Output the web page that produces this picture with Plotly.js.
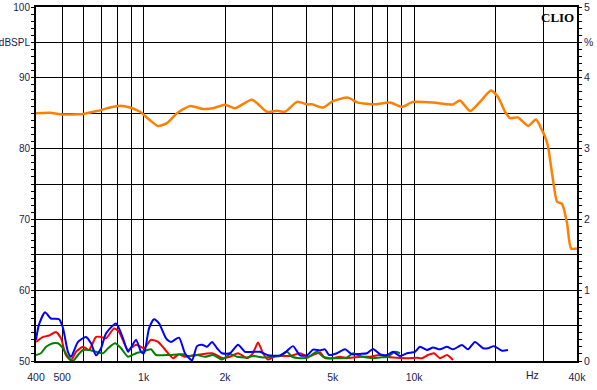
<!DOCTYPE html>
<html>
<head>
<meta charset="utf-8">
<script src="https://cdn.plot.ly/plotly-3.0.1.min.js"></script>
<style>html,body{margin:0;padding:0;background:#fff;}#chart{width:597px;height:390px;}</style>
</head>
<body>
<div id="chart"></div>
<script>
// Frequency response (dBSPL, left axis)
var splFreq = [400,451,491,567,597,672,751,818,890,970,1056,1130,1220,1328,1484,1657,1805,1998,2176,2515,2858,3112,3331,3690,4017,4193,4604,5012,5694,6200,7167,8146,9020,9904,11745,13229,13920,14775,16090,17520,19240,20420,21680,22620,24210,26370,28210,29690,30460,31250,32600,33760,35210,36760,38010,40000];
var splDb = [85.0,85.07,84.85,84.85,84.9,85.3,85.8,86.05,85.8,85.2,84.0,83.2,83.6,85.0,86.0,85.6,85.7,86.2,85.7,86.9,85.2,85.35,85.2,86.6,86.25,86.25,85.8,86.7,87.2,86.5,86.25,86.5,85.9,86.6,86.5,86.25,86.25,86.8,85.3,86.6,88.2,87.3,85.2,84.3,84.4,83.2,84.1,82.6,81.7,80.3,75.6,72.5,72.2,69.45,65.9,65.9];

// Distortion (%, right axis)
var blueFreq = [400,410,432,454,487,503,525,539,572,612,639,667,696,726,791,839,876,937,978,1003,1047,1092,1140,1210,1262,1351,1422,1509,1575,1644,1715,1790,1868,1949,2086,2233,2370,2536,2693,2882,3192,3360,3566,3785,4017,4227,4487,4682,4845,5187,5552,5893,6308,6696,7046,7479,7937,8353,8866,9410,10072,10511,11156,11745,12460,13229,13920,15030,15816,16788,17981,18752,19737,21130,22233];
var bluePct = [0.30,0.51,0.69,0.60,0.59,0.47,0.13,0.06,0.27,0.34,0.25,0.08,0.18,0.39,0.53,0.32,0.13,0.30,0.13,0.11,0.46,0.59,0.53,0.32,0.27,0.33,0.11,0.01,0.21,0.23,0.20,0.27,0.18,0.11,0.11,0.23,0.13,0.13,0.13,0.08,0.08,0.13,0.21,0.08,0.08,0.16,0.15,0.165,0.085,0.11,0.165,0.095,0.10,0.11,0.17,0.095,0.085,0.13,0.07,0.11,0.13,0.20,0.155,0.19,0.165,0.20,0.165,0.225,0.165,0.27,0.18,0.18,0.21,0.145,0.155];

var redFreq = [400,425,447,474,495,516,539,562,597,628,667,696,726,777,811,876,937,1003,1065,1130,1189,1284,1351,1422,1575,1790,1966,2086,2233,2410,2536,2647,2762,2882,3059,3476,3785,4051,4487,4682,5012,5320,5647,5944,6472,6869,7479,7937,8353,9410,10245,10691,11252,11842,12460,13229,13920];
var redPct = [0.27,0.34,0.36,0.41,0.32,0.08,0.01,0.13,0.20,0.155,0.34,0.34,0.32,0.46,0.41,0.155,0.23,0.18,0.30,0.27,0.18,0.04,0.095,0.06,0.085,0.11,0.04,0.06,0.11,0.04,0.11,0.26,0.11,0.02,0.07,0.07,0.11,0.06,0.12,0.04,0.04,0.06,0.04,0.05,0.06,0.06,0.085,0.06,0.05,0.04,0.045,0.04,0.085,0.11,0.04,0.085,0.015];

var greenFreq = [400,417,436,462,482,503,525,548,572,597,628,667,708,739,784,825,876,937,986,1065,1111,1241,1398,1447,1575,1686,1805,1949,2086,2214,2410,2536,2762,2982,3192,3388,3536,3785,4051,4374,4603,4886,5320,5647,5944,6308,6696,7046,7479,8005,8497,8866];
var greenPct = [0.085,0.11,0.20,0.25,0.25,0.18,0.06,0.0,0.085,0.155,0.155,0.13,0.11,0.18,0.25,0.18,0.06,0.11,0.13,0.165,0.085,0.085,0.095,0.07,0.085,0.06,0.085,0.02,0.095,0.06,0.05,0.07,0.05,0.06,0.07,0.13,0.06,0.04,0.05,0.13,0.06,0.04,0.04,0.05,0.11,0.07,0.05,0.04,0.05,0.06,0.13,0.11];

// Axis ticks
var xTickVals = [400,500,600,700,800,900,1000,2000,3000,4000,5000,6000,7000,8000,9000,10000,20000,30000,40000];
var xTickText = ["400","500","","","","","1k","2k","","","5k","","","","","10k","","","40k"];
var yTickVals = [50,55,60,65,70,75,80,85,90,95,100];
var yTickText = ["50","","60","","70","","80","","90","dBSPL","100"];
var y2TickVals = [0,1,2,3,4,4.5,5];
var y2TickText = ["0","1","2","3","4","%","5"];

var lbl = {family:"Liberation Sans, Arial, sans-serif", size:10, color:"#1c1c50"};
var xlbl = {family:"Liberation Sans, Arial, sans-serif", size:10.5, color:"#1c1c50"};

function curve(x, y, color, width, axis) {
  return {x:x, y:y, type:"scatter", mode:"lines", yaxis:axis, hoverinfo:"skip",
          line:{color:color, width:width, shape:"spline", smoothing:0.6}};
}

var data = [
  curve(redFreq, redPct, "#ff0000", 2, "y2"),
  curve(greenFreq, greenPct, "#008000", 2, "y2"),
  curve(blueFreq, bluePct, "#0000ff", 2, "y2"),
  curve(splFreq, splDb, "#ff8000", 2.5, "y")
];

var layout = {
  width:597, height:390,
  margin:{l:36, r:20, t:7, b:29, pad:0},
  paper_bgcolor:"#ffffff", plot_bgcolor:"#ffffff",
  showlegend:false,
  font:lbl,
  xaxis:{type:"log", range:[Math.log10(400), Math.log10(40000)],
    tickmode:"array", tickvals:xTickVals, ticktext:xTickText,
    showgrid:true, gridcolor:"#000000", gridwidth:1,
    showline:true, linecolor:"#000000", linewidth:2, mirror:true,
    ticks:"", zeroline:false, tickfont:xlbl, ticklabelstandoff:5},
  yaxis:{range:[50,100], tickmode:"array", tickvals:yTickVals, ticktext:yTickText,
    showgrid:true, gridcolor:"#000000", gridwidth:1,
    showline:true, linecolor:"#000000", linewidth:2, mirror:false,
    ticks:"outside", ticklen:3, tickcolor:"#000000", tickwidth:1,
    minor:{dtick:1, ticks:"outside", ticklen:3, tickcolor:"#000000", tickwidth:1, showgrid:false},
    zeroline:false, tickfont:lbl, ticklabelstandoff:-1},
  yaxis2:{range:[0,5], overlaying:"y", side:"right", tickmode:"array",
    tickvals:y2TickVals, ticktext:y2TickText,
    showgrid:false, showline:true, linecolor:"#000000", linewidth:2,
    ticks:"outside", ticklen:3, tickcolor:"#000000", tickwidth:1,
    minor:{dtick:0.1, ticks:"outside", ticklen:3, tickcolor:"#000000", tickwidth:1, showgrid:false},
    zeroline:false, tickfont:xlbl, ticklabelstandoff:0},
  annotations:[
    {text:"<b>CLIO</b>", xref:"paper", yref:"paper", x:1, y:1, xanchor:"right", yanchor:"top",
     showarrow:false, font:{family:"Liberation Serif, Times New Roman, serif", size:13, color:"#000000"}, xshift:-1, yshift:-1},
    {text:"Hz", xref:"paper", yref:"paper", x:(532-36)/541, y:0, xanchor:"center", yanchor:"top",
     showarrow:false, font:xlbl, yshift:-6}
  ]
};

Plotly.newPlot("chart", data, layout, {staticPlot:true, displayModeBar:false});
</script>
</body>
</html>
